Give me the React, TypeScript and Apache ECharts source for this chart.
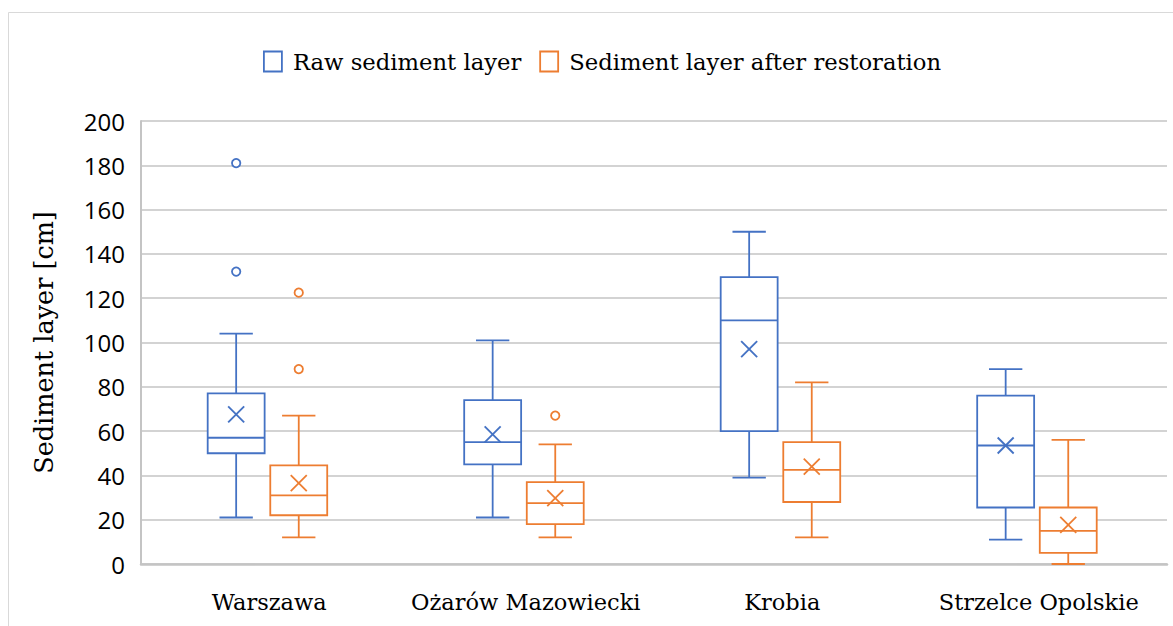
import React, { useEffect, useRef } from "react";
import * as echarts from "echarts";

const categories = ["Warszawa", "Ożarów Mazowiecki", "Krobia", "Strzelce Opolskie"];
const seriesNames = ["Raw sediment layer", "Sediment layer after restoration"];
const colors = ["#4472C4", "#ED7D31"];

// [min whisker, Q1, median, Q3, max whisker, mean]
const rawStats = [
  [21, 50, 57, 77, 104, 67.5],
  [21, 45, 55, 74, 101, 58.5],
  [39, 60, 110, 129.5, 150, 97],
  [11, 25.5, 53.5, 76, 88, 53.5],
];
const restoredStats = [
  [12, 22, 31, 44.5, 67, 36.5],
  [12, 18, 27.5, 37, 54, 29.7],
  [12, 28, 42.5, 55, 82, 44],
  [0, 5, 15, 25.5, 56, 17.7],
];
// outliers: [categoryIndex, value]
const rawOutliers = [
  [0, 181],
  [0, 132],
];
const restoredOutliers = [
  [0, 122.5],
  [0, 88],
  [1, 67],
];

const yTicks = { min: 0, max: 200, interval: 20 };

// horizontal offsets of the two boxes within a category (fraction of band width)
const offsets = [-0.129, 0.115];

function makeBoxSeries(idx: number, stats: number[][]) {
  const color = colors[idx];
  const off = offsets[idx];
  return {
    type: "custom",
    name: seriesNames[idx],
    data: stats.map((s, i) => [i, ...s]),
    encode: { x: 0, y: [1, 2, 3, 4, 5, 6] },
    itemStyle: { color },
    z: 3,
    renderItem: (params: any, api: any) => {
      const ci = api.value(0);
      const band = api.size([1, 0])[0];
      const cx0 = api.coord([ci, 0])[0];
      const cx = cx0 + off * band;
      const bw = band * 0.222;
      const cap = band * 0.065;
      const y = (v: number) => api.coord([ci, v])[1];
      const lo = y(api.value(1));
      const q1 = y(api.value(2));
      const med = y(api.value(3));
      const q3 = y(api.value(4));
      const hi = y(api.value(5));
      const mean = y(api.value(6));
      const st = { stroke: color, lineWidth: 1.8, fill: "none" };
      const m = 8;
      return {
        type: "group",
        children: [
          { type: "line", shape: { x1: cx, y1: q3, x2: cx, y2: hi }, style: st },
          { type: "line", shape: { x1: cx - cap, y1: hi, x2: cx + cap, y2: hi }, style: st },
          { type: "line", shape: { x1: cx, y1: q1, x2: cx, y2: lo }, style: st },
          { type: "line", shape: { x1: cx - cap, y1: lo, x2: cx + cap, y2: lo }, style: st },
          {
            type: "rect",
            shape: { x: cx - bw / 2, y: q3, width: bw, height: q1 - q3 },
            style: { stroke: color, lineWidth: 1.8, fill: "#ffffff" },
          },
          { type: "line", shape: { x1: cx - bw / 2, y1: med, x2: cx + bw / 2, y2: med }, style: st },
          { type: "line", shape: { x1: cx - m, y1: mean - m, x2: cx + m, y2: mean + m }, style: st },
          { type: "line", shape: { x1: cx - m, y1: mean + m, x2: cx + m, y2: mean - m }, style: st },
        ],
      };
    },
  };
}

function makeOutlierSeries(idx: number, pts: number[][]) {
  const color = colors[idx];
  const off = offsets[idx];
  return {
    type: "custom",
    name: seriesNames[idx],
    data: pts,
    encode: { x: 0, y: 1 },
    z: 4,
    renderItem: (params: any, api: any) => {
      const ci = api.value(0);
      const band = api.size([1, 0])[0];
      const p = api.coord([ci, api.value(1)]);
      return {
        type: "circle",
        shape: { cx: p[0] + off * band, cy: p[1], r: 4.2 },
        style: { stroke: color, lineWidth: 1.8, fill: "#ffffff" },
      };
    },
  };
}

const serifFont = "'DejaVu Serif', serif";

export default function App() {
  const ref = useRef<HTMLDivElement>(null);
  useEffect(() => {
    if (!ref.current) return;
    const chart = echarts.init(ref.current, undefined, { renderer: "svg" });
    chart.setOption({
      animation: false,
      backgroundColor: "#ffffff",
      graphic: [
        {
          type: "rect",
          shape: { x: 8.5, y: 12.5, width: 1300, height: 800 },
          style: { fill: "none", stroke: "#D9D9D9", lineWidth: 1 },
          silent: true,
          z: -10,
        },
      ],
      legend: {
        left: 258,
        top: 45,
        itemWidth: 18,
        itemHeight: 20,
        itemGap: 18,
        data: seriesNames.map((n, i) => ({
          name: n,
          icon: "rect",
          itemStyle: { color: "#ffffff", borderColor: colors[i], borderWidth: 1.8 },
        })),
        textStyle: {
          fontFamily: serifFont,
          fontSize: 22.7,
          color: "#000000",
          padding: [0, 0, 0, 6],
        },
      },
      grid: { left: 141, right: 6, top: 121, bottom: 62 },
      xAxis: {
        type: "category",
        data: categories,
        axisTick: { show: false },
        axisLine: { lineStyle: { color: "#C4C4C4", width: 2.5 } },
        axisLabel: {
          interval: 0,
          fontFamily: serifFont,
          fontSize: 22.5,
          color: "#000000",
          margin: 26,
        },
        splitLine: { show: false },
      },
      yAxis: {
        type: "value",
        min: yTicks.min,
        max: yTicks.max,
        interval: yTicks.interval,
        name: "Sediment layer [cm]",
        nameLocation: "middle",
        nameRotate: 90,
        nameGap: 84,
        nameTextStyle: { fontFamily: serifFont, fontSize: 25.5, color: "#000000" },
        axisLine: { show: true, lineStyle: { color: "#C4C4C4", width: 2 } },
        axisTick: { show: false },
        axisLabel: {
          fontFamily: "'Open Sans', sans-serif",
          fontSize: 24,
          color: "#000000",
          margin: 16,
        },
        splitLine: { lineStyle: { color: "#C4C4C4", width: 1.5 } },
      },
      series: [
        makeBoxSeries(0, rawStats),
        makeBoxSeries(1, restoredStats),
        makeOutlierSeries(0, rawOutliers),
        makeOutlierSeries(1, restoredOutliers),
      ],
    });
    return () => chart.dispose();
  }, []);
  return (
    <div
      ref={ref}
      style={{ position: "fixed", left: 0, top: 0, width: 1173, height: 626 }}
    />
  );
}
